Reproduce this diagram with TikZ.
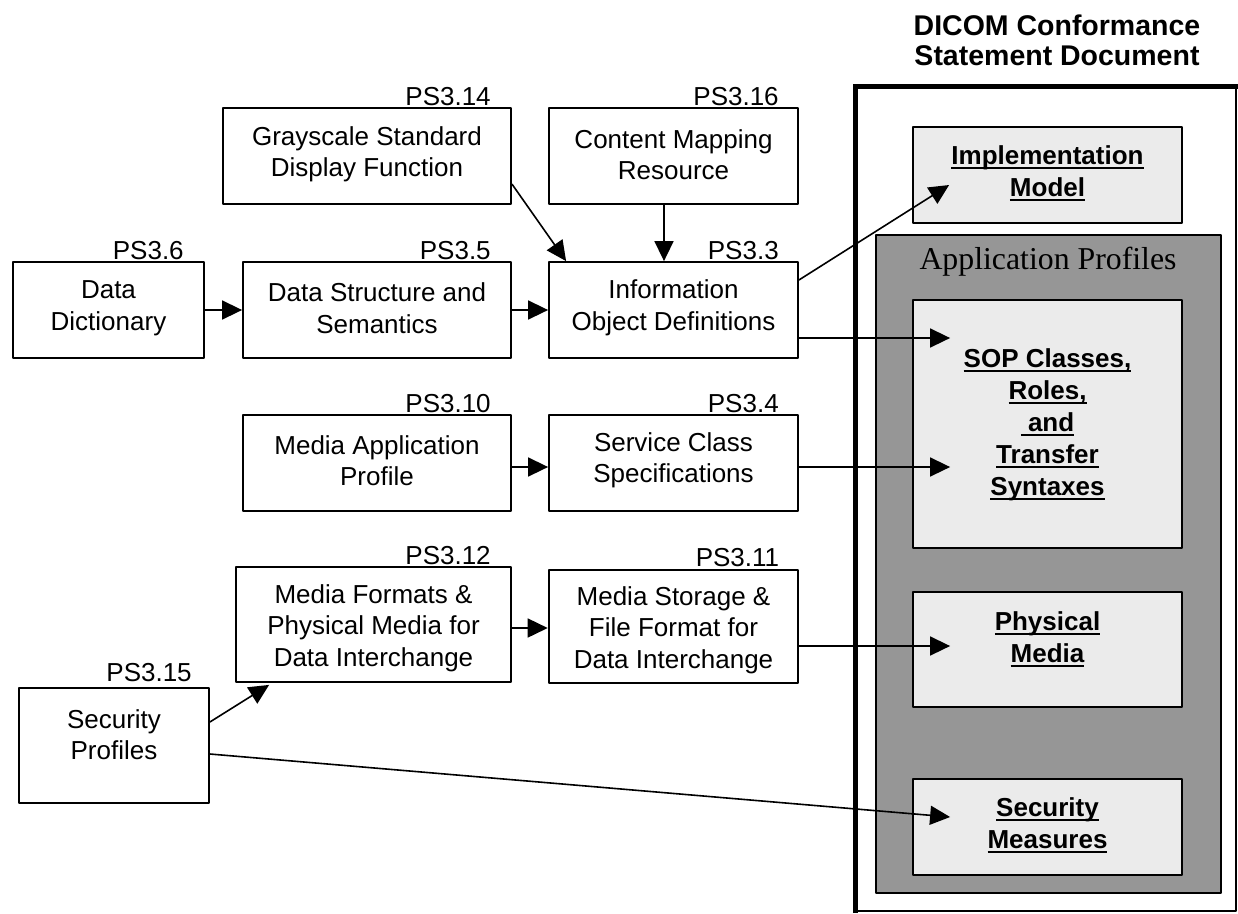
\documentclass[tikz,border=0pt]{standalone}
\usepackage{fontspec}
\setmainfont{Liberation Sans}
\newfontfamily\serifface{Liberation Serif}
\usetikzlibrary{arrows.meta}
\definecolor{profgray}{gray}{0.59}
\definecolor{itemgray}{gray}{0.92}
\newcommand\ulbold[1]{\leavevmode\setbox0\hbox{#1}\rlap{\rule[-4.5pt]{\wd0}{2pt}}\box0}

\begin{document}
\begin{tikzpicture}[x=1pt,y=-1pt,>={Triangle[length=20pt,width=19pt]},line join=bevel,
  stdbox/.style={draw,line width=1.8pt,inner sep=0pt,minimum height=96pt},
  itembox/.style={draw,line width=1.8pt,fill=itemgray,inner sep=0pt,minimum width=269pt},
  boxtext/.style={align=center,inner sep=0pt,font=\fontsize{26}{31.5}\selectfont},
  itemtext/.style={align=center,inner sep=0pt,font=\bfseries\fontsize{26}{32}\selectfont},
  pslabel/.style={anchor=base east,inner sep=0pt,font=\fontsize{26}{31}\selectfont},
  link/.style={->,line width=1.6pt}]
\useasboundingbox (0,0) rectangle (1238,913);
%%
  % Node: conformance statement
  \node[draw,line width=2pt,inner sep=0pt,minimum width=380pt,minimum height=824pt] (csd) at (1046,499) {};
  \draw[line width=5pt,line join=miter] ([yshift=-1pt]csd.south west) -- (csd.north west) -- ([xshift=1pt]csd.north east);
  \node[align=center,inner sep=0pt,font=\bfseries\fontsize{28.5}{30}\selectfont] (csd-title) at (1057,40) {DICOM Conformance\\Statement Document};
  \node[itembox,minimum height=96pt] (impl) at (1047.5,175) {};
  \node[itemtext] (impl-t) at ([yshift=2pt]impl.center) {\ulbold{Implementation}\\\ulbold{Model}};
  % Node: application profiles
  \node[draw,line width=1.6pt,fill=profgray,inner sep=0pt,minimum width=345pt,minimum height=658pt] (appprof) at (1048.5,564) {};
  \node[inner sep=0pt,font=\serifface\fontsize{31.8}{36}\selectfont] (appprof-t) at (1048,262) {Application Profiles};
  \node[itembox,minimum height=248pt] (sop) at (1047.5,424) {};
  \node[itemtext] (sop-t) at ([yshift=-1pt]sop.center) {\ulbold{SOP Classes,}\\\ulbold{Roles,}\\\ulbold{\ and}\\\ulbold{Transfer}\\\ulbold{Syntaxes}};
  \node[itembox,minimum height=115pt] (phys) at (1047.5,649.5) {};
  \node[itemtext] (phys-t) at ([yshift=10.5pt]phys.center) {\ulbold{Physical}\\\ulbold{Media}};
  \node[itembox,minimum height=96pt] (secm) at (1047.5,827) {};
  \node[itemtext] (secm-t) at ([yshift=1.5pt]secm.center) {\ulbold{Security}\\\ulbold{Measures}};
  % Node: PS3.14
  \node[stdbox,minimum width=288pt] (gsdf) at (367,156) {};
  \node[boxtext] (gsdf-t) at ([yshift=1.5pt]gsdf.center) {Grayscale Standard\\Display Function};
  \node[pslabel] (ps314) at ([xshift=-21pt,yshift=2pt]gsdf.north east) {PS3.14};
  % Node: PS3.16
  \node[stdbox,minimum width=249pt] (cmr) at (673.5,156) {};
  \node[boxtext] (cmr-t) at ([yshift=1.5pt]cmr.center) {Content Mapping\\Resource};
  \node[pslabel] (ps316) at ([xshift=-20pt,yshift=2pt]cmr.north east) {PS3.16};
  % Node: PS3.6
  \node[stdbox,minimum width=191pt] (dict) at (108.5,310) {};
  \node[boxtext] (dict-t) at ([yshift=2pt]dict.center) {Data\\Dictionary};
  \node[pslabel] (ps36) at ([xshift=-21pt,yshift=2pt]dict.north east) {PS3.6};
  % Node: PS3.5
  \node[stdbox,minimum width=268pt] (dss) at (377,310) {};
  \node[boxtext] (dss-t) at ([yshift=2pt]dss.center) {Data Structure and\\Semantics};
  \node[pslabel] (ps35) at ([xshift=-21pt,yshift=2pt]dss.north east) {PS3.5};
  % Node: PS3.3
  \node[stdbox,minimum width=249pt] (iod) at (673.5,310) {};
  \node[boxtext] (iod-t) at ([yshift=2pt]iod.center) {Information\\Object Definitions};
  \node[pslabel] (ps33) at ([xshift=-20pt,yshift=2pt]iod.north east) {PS3.3};
  % Node: PS3.10
  \node[stdbox,minimum width=268pt] (map) at (377,463) {};
  \node[boxtext] (map-t) at ([yshift=2.5pt]map.center) {Media Application\\Profile};
  \node[pslabel] (ps310) at ([xshift=-21pt,yshift=2pt]map.north east) {PS3.10};
  % Node: PS3.4
  \node[stdbox,minimum width=249pt] (scs) at (673.5,463) {};
  \node[boxtext] (scs-t) at ([yshift=2.5pt]scs.center) {Service Class\\Specifications};
  \node[pslabel] (ps34) at ([xshift=-20pt,yshift=2pt]scs.north east) {PS3.4};
  % Node: PS3.12
  \node[stdbox,minimum width=275pt,minimum height=115pt] (mfpm) at (373.5,624.5) {};
  \node[boxtext] (mfpm-t) at ([yshift=-3.5pt]mfpm.center) {Media Formats \&\\Physical Media for\\Data Interchange};
  \node[pslabel] (ps312) at ([xshift=-21pt,yshift=2pt]mfpm.north east) {PS3.12};
  % Node: PS3.11
  \node[stdbox,line width=2.6pt,minimum width=249pt,minimum height=113pt] (msff) at (673.5,626.5) {};
  \node[boxtext] (msff-t) at ([yshift=-3.5pt]msff.center) {Media Storage \&\\File Format for\\Data Interchange};
  \node[pslabel] (ps311) at ([xshift=-20pt,yshift=2pt]msff.north east) {PS3.11};
  % Node: PS3.15
  \node[stdbox,minimum width=190pt,minimum height=115pt] (sec) at (114,745.5) {};
  \node[boxtext] (sec-t) at ([yshift=11pt]sec.center) {Security\\Profiles};
  \node[pslabel] (ps315) at ([xshift=-18pt,yshift=6pt]sec.north east) {PS3.15};
%%
  % Edge: dict -> dss
  \draw[link] (dict) -- (dss);
  % Edge: dss -> iod
  \draw[link] (dss) -- (iod);
  % Edge: gsdf -> iod
  \draw[link] ([yshift=-28pt]gsdf.east) -- ([xshift=18pt]iod.north west);
  % Edge: cmr -> iod
  \draw[link] ([xshift=-9.5pt]cmr.south) -- ([xshift=-9.5pt]iod.north);
  % Edge: iod -> impl
  \draw[link] ([yshift=30pt]iod.east) -- ([xshift=37pt,yshift=-10pt]impl.west);
  % Edge: iod -> sop
  \draw[link] ([yshift=-28pt]iod.east) -- ([xshift=38pt,yshift=86pt]sop.west);
  % Edge: map -> scs
  \draw[link] ([yshift=-4pt]map.east) -- ([yshift=-4pt]scs.west);
  % Edge: scs -> sop
  \draw[link] ([yshift=-4pt]scs.east) -- ([xshift=38pt,yshift=-43pt]sop.west);
  % Edge: mfpm -> msff
  \draw[link] ([yshift=-3.5pt]mfpm.east) -- ([yshift=-1.5pt]msff.west);
  % Edge: msff -> phys
  \draw[link] ([yshift=-19.5pt]msff.east) -- ([xshift=38pt,yshift=3.5pt]phys.west);
  % Edge: sec -> mfpm
  \draw[link] ([yshift=23.5pt]sec.east) -- ([xshift=34pt,yshift=-2pt]mfpm.south west);
  % Edge: sec -> secm
  \draw[link] ([yshift=-8.5pt]sec.east) -- ([xshift=38pt,yshift=10pt]secm.west);
%
\end{tikzpicture}
\end{document}
